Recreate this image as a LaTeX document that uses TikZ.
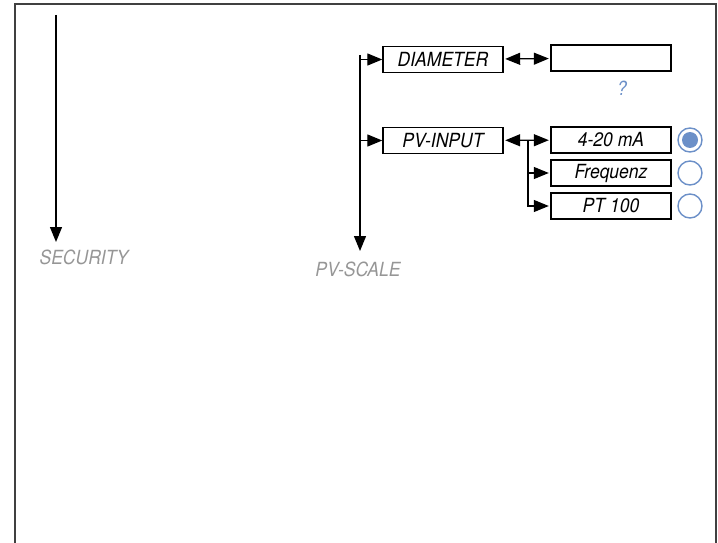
\documentclass[tikz,border=0pt]{standalone}
\usepackage{fontspec}
\setmainfont{TeX Gyre Heros}[FakeStretch=0.9]
\usetikzlibrary{arrows.meta}
\definecolor{menugray}{RGB}{150,150,150}
\definecolor{menublue}{RGB}{108,144,200}

\begin{document}
\begin{tikzpicture}[x=1pt,y=-1pt,>={Triangle[length=15pt,width=12pt]},font=\fontsize{19.5}{22}\selectfont\itshape,
  menubox/.style={draw,line width=1.4pt,minimum width=120pt,minimum height=26pt,inner sep=0pt},
  radio/.style={circle,draw=menublue,line width=1.4pt,minimum size=24pt,inner sep=0pt}]
 \useasboundingbox (0,0) rectangle (718,543);
 \draw[line width=1.5pt,black!75] (15,543) -- (15,4) -- (716,4) -- (716,543);
 % the two menu columns
 \coordinate (sectop) at (56,15); \coordinate (secend) at (56,242);
 \draw[->,line width=1.3pt] (sectop) -- (secend);
 \node[text=menugray] (sec) at (84,257) {SECURITY};
 \coordinate (scaletop) at (360,55); \coordinate (scaleend) at (360,251);
 \draw[->,line width=1.3pt] (scaletop) -- (scaleend);
 \node[text=menugray] (scale) at (358,269) {PV-SCALE};
 % sub menu entries
 \node[menubox] (diam) at (443,59.5) {DIAMETER};
 \node[menubox] (value) at (611,58) {};
 \node[text=menublue] (ask) at (622,88) {?};
 \node[menubox] (pvin) at (443,140.5) {PV-INPUT};
 \node[menubox] (ma) at (611,140) {4-20 mA};
 \node[menubox] (freq) at (611,173) {Frequenz};
 \node[menubox] (pt) at (611,206) {PT 100};
 \node[radio] (rma) at (690,140) {}; \fill[menublue] (rma) circle (8);
 \node[radio] (rfreq) at (690,173) {};
 \node[radio] (rpt) at (690,206) {};
 \begin{scope}[line width=1.3pt]
  \draw[->] (diam.west -| scaletop) -- (diam);
  \draw[->] (pvin.west -| scaletop) -- (pvin);
  \draw[<->,shorten <=1.5pt,shorten >=1.5pt] (diam) -- (value);
  \draw[<->,shorten <=1.5pt,shorten >=1.5pt] (pvin) -- (ma);
  \coordinate (branch) at (528,140);
  \draw[->,shorten >=1.5pt] (branch) |- (freq);
  \draw[->,shorten >=1.5pt] (branch) |- (pt);
 \end{scope}
\end{tikzpicture}
\end{document}
